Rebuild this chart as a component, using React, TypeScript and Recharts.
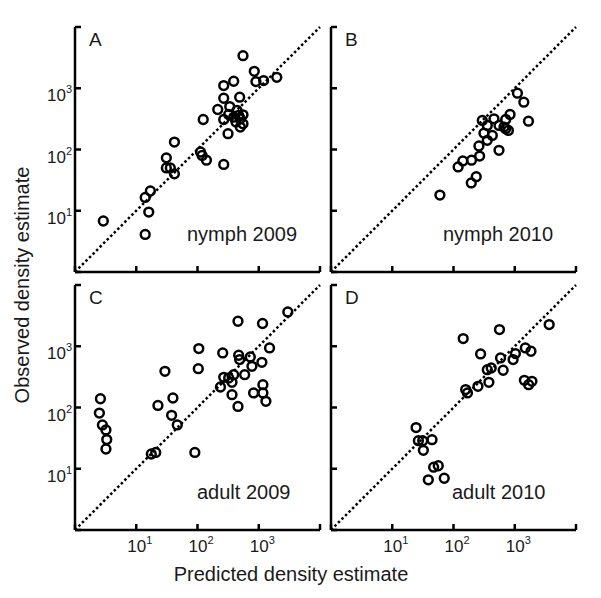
import React from 'react';
import { ScatterChart, Scatter, XAxis, YAxis, ReferenceLine } from 'recharts';

// tick values shared by both log axes
const TICKS = [1, 10, 100, 1000, 10000];

// panel A – nymph 2009
const nymph2009Predicted = [2.9, 14, 14, 17, 16, 31, 31, 36, 42, 42, 112, 119, 140, 124, 268, 268, 390, 268, 214, 336, 268, 323, 315, 488, 442, 390, 470, 553, 425, 500, 553, 500, 553, 845, 899, 1200, 1970];
const nymph2009Observed = [6.8, 4.1, 16.5, 21, 9.5, 73, 50, 50, 40, 132, 91, 80, 67, 309, 57, 1105, 1300, 687, 450, 503, 309, 373, 181, 714, 433, 337, 360, 368, 280, 232, 263, 317, 3400, 1890, 1283, 1333, 1510];

// panel B – nymph 2010
const nymph2010Predicted = [60, 119, 142, 195, 235, 197, 267, 260, 295, 314, 356, 430, 458, 356, 553, 553, 712, 838, 712, 787, 668, 1106, 1406, 1675];
const nymph2010Observed = [18, 52, 65, 28.5, 36, 67, 78, 114, 298, 185, 141, 170, 317, 247, 97, 247, 309, 373, 218, 205, 232, 830, 592, 290];

// panel C – adult 2009
const adult2009Predicted = [2.6, 2.5, 2.8, 3.2, 3.3, 3.2, 17.6, 20.8, 22.6, 29.4, 39.7, 37.8, 46.7, 90.5, 105, 103, 258, 237, 268, 323, 390, 366, 366, 458, 458, 470, 488, 589, 728, 774, 824, 1125, 1153, 1169, 1169, 1308, 1500, 2980];
const adult2009Observed = [139, 81, 52, 43, 30, 21, 17.4, 18.5, 108, 390, 143, 74.5, 52, 18.5, 916, 431, 778, 216, 311, 303, 344, 258, 162, 104, 2560, 713, 606, 344, 670, 471, 173, 547, 2350, 236, 173, 126, 939, 3640];

// panel D – adult 2010
const adult2010Predicted = [24.5, 26.7, 31.4, 32.2, 44.6, 47.4, 56.4, 38.8, 70.6, 144, 158, 169, 251, 277, 356, 378, 413, 563, 586, 647, 940, 1025, 1489, 1841, 1436, 1686, 1909, 3648];
const adult2010Observed = [47, 28.7, 28.7, 20, 29.8, 10.6, 11.2, 6.6, 7.0, 1334, 196, 173, 222, 750, 415, 258, 443, 1871, 644, 406, 606, 759, 939, 828, 278, 236, 268, 2260];

const FONT = 'Arial, "Liberation Sans", Helvetica, sans-serif';
const PLOT = 245; // plot area size in px
const Y_AXIS_W = 50;
const X_AXIS_H = 30;
const M_TOP = 5;
const M_RIGHT = 5;

const zip = (xs: number[], ys: number[]) => xs.map((x, i) => ({ x, y: ys[i] }));

const Ring = (props: any) => {
  const { cx, cy } = props;
  if (cx == null || cy == null) return null;
  return <circle cx={cx} cy={cy} r={4.4} fill="none" stroke="#000" strokeWidth={2.5} />;
};

const expOf = (v: number) => Math.round(Math.log10(v));

const XTick = (props: any) => {
  const { x, y, payload, showLabel } = props;
  const v = payload.value;
  return (
    <g>
      <line x1={x} y1={y} x2={x} y2={y - 6} stroke="#000" strokeWidth={2.5} />
      {showLabel && v > 1 && v < 10000 && (
        <text x={x - 9} y={y + 22} fontFamily={FONT} fontSize={17} fill="#1a1a1a">
          10<tspan dy={-8} fontSize={11}>{expOf(v)}</tspan>
        </text>
      )}
    </g>
  );
};

const YTick = (props: any) => {
  const { x, y, payload, showLabel } = props;
  const v = payload.value;
  return (
    <g>
      <line x1={x} y1={y} x2={x + 6} y2={y} stroke="#000" strokeWidth={2.5} />
      {showLabel && v > 1 && v < 10000 && (
        <text x={x - 3} y={y + 13} textAnchor="end" fontFamily={FONT} fontSize={17} fill="#1a1a1a">
          10<tspan dy={-8} fontSize={11}>{expOf(v)}</tspan>
        </text>
      )}
    </g>
  );
};

interface PanelProps {
  left: number; // plot area left
  top: number; // plot area top
  letter: string;
  label: string;
  labelX: number; // offset from plot left
  data: { x: number; y: number }[];
  xLabels: boolean;
  yLabels: boolean;
}

const Panel: React.FC<PanelProps> = ({ left, top, letter, label, labelX, data, xLabels, yLabels }) => {
  const w = Y_AXIS_W + PLOT + M_RIGHT;
  const h = M_TOP + PLOT + X_AXIS_H;
  return (
    <div style={{ position: 'absolute', left: left - Y_AXIS_W, top: top - M_TOP, width: w, height: h }}>
      <ScatterChart width={w} height={h} margin={{ top: M_TOP, right: M_RIGHT, bottom: 0, left: 0 }}>
        <XAxis
          type="number"
          dataKey="x"
          scale="log"
          domain={[1, 10000]}
          ticks={TICKS}
          interval={0}
          allowDataOverflow
          height={X_AXIS_H}
          tickSize={0}
          tickMargin={0}
          tickLine={false}
          axisLine={{ stroke: '#000', strokeWidth: 2.5 }}
          tick={(p: any) => <XTick {...p} showLabel={xLabels} />}
        />
        <YAxis
          type="number"
          dataKey="y"
          scale="log"
          domain={[1, 10000]}
          ticks={TICKS}
          interval={0}
          allowDataOverflow
          width={Y_AXIS_W}
          tickSize={0}
          tickMargin={0}
          tickLine={false}
          axisLine={{ stroke: '#000', strokeWidth: 2.5 }}
          tick={(p: any) => <YTick {...p} showLabel={yLabels} />}
        />
        <ReferenceLine
          segment={[{ x: 1, y: 1 }, { x: 10000, y: 10000 }]}
          stroke="#000"
          strokeWidth={2.5}
          strokeDasharray="2.5 2.5"
          ifOverflow="visible"
        />
        <Scatter data={data} shape={Ring} isAnimationActive={false} />
        <text x={Y_AXIS_W + 14} y={M_TOP + 19} fontFamily={FONT} fontSize={19} fill="#1a1a1a">
          {letter}
        </text>
        <text x={Y_AXIS_W + labelX} y={M_TOP + PLOT - 31} fontFamily={FONT} fontSize={20} fill="#1a1a1a">
          {label}
        </text>
      </ScatterChart>
    </div>
  );
};

export default function App() {
  return (
    <div style={{ position: 'absolute', left: 0, top: 0, width: 601, height: 598, background: '#fff', fontFamily: FONT }}>
      <Panel left={75} top={27} letter="A" label="nymph 2009" labelX={112} data={zip(nymph2009Predicted, nymph2009Observed)} xLabels={false} yLabels />
      <Panel left={331} top={27} letter="B" label="nymph 2010" labelX={112} data={zip(nymph2010Predicted, nymph2010Observed)} xLabels={false} yLabels={false} />
      <Panel left={75} top={285} letter="C" label="adult 2009" labelX={122} data={zip(adult2009Predicted, adult2009Observed)} xLabels yLabels />
      <Panel left={331} top={285} letter="D" label="adult 2010" labelX={121} data={zip(adult2010Predicted, adult2010Observed)} xLabels yLabels={false} />
      <svg width={601} height={598} style={{ position: 'absolute', left: 0, top: 0, pointerEvents: 'none' }}>
        <text x={291} y={581} textAnchor="middle" fontFamily={FONT} fontSize={20} fill="#1a1a1a">
          Predicted density estimate
        </text>
        <text
          x={0}
          y={0}
          transform="translate(29 285) rotate(-90)"
          textAnchor="middle"
          fontFamily={FONT}
          fontSize={20}
          fill="#1a1a1a"
        >
          Observed density estimate
        </text>
      </svg>
    </div>
  );
}
